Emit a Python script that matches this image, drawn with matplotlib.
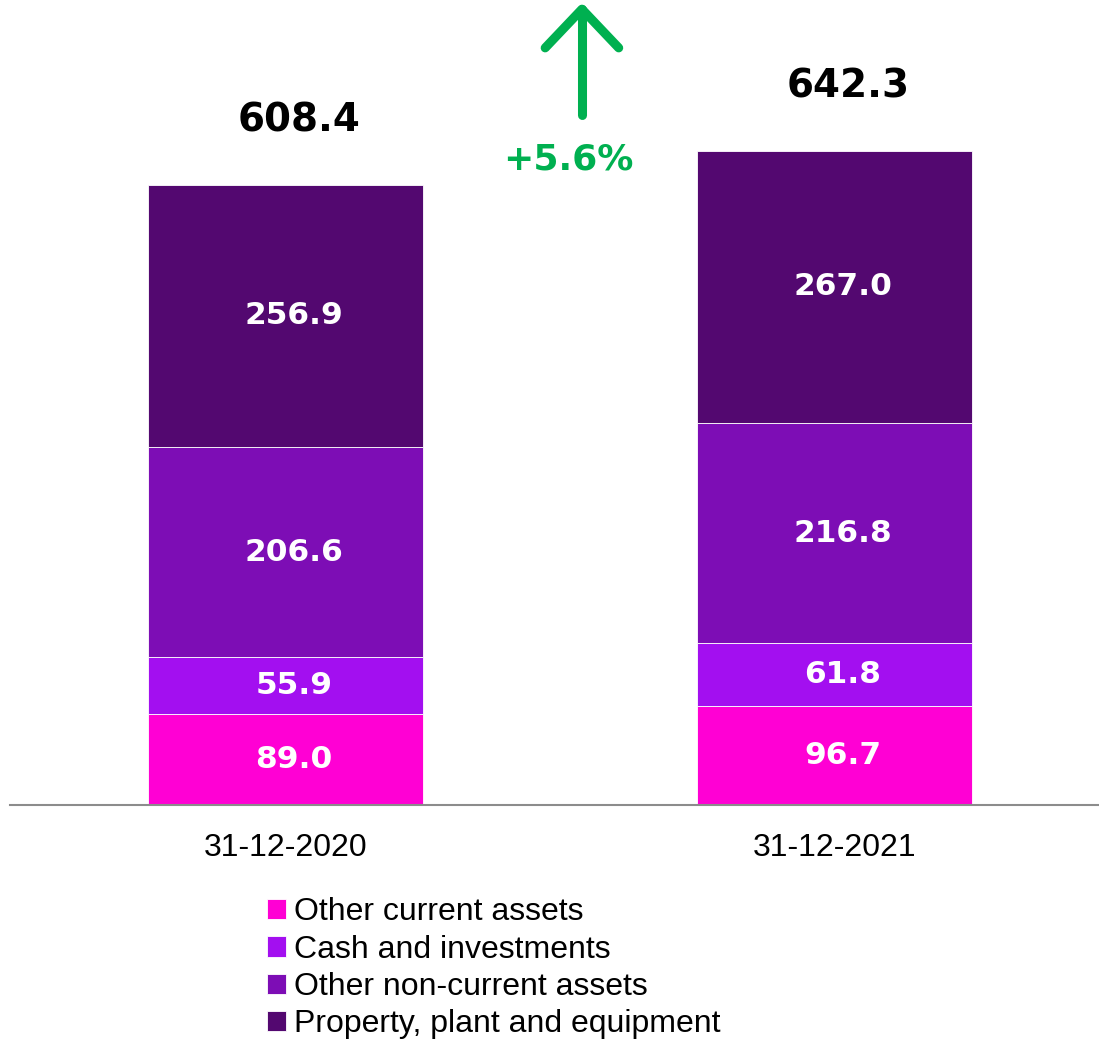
import matplotlib.pyplot as plt
import numpy as np

# balance sheet assets, in millions
dates = ["31-12-2020", "31-12-2021"]
series = ["Other current assets", "Cash and investments",
          "Other non-current assets", "Property, plant and equipment"]
other_current = [89.0, 96.7]
cash = [55.9, 61.8]
other_noncurrent = [206.6, 216.8]
ppe = [256.9, 267.0]
totals = [608.4, 642.3]
growth = "+5.6%"

colors = ["#FF00D4", "#A30FF0", "#7D0DB5", "#530870"]

fig = plt.figure(figsize=(10.99, 10.41), dpi=100)
ax = fig.add_axes([0.0091, 0.2267, 0.9909, 0.7733])

x = np.arange(len(dates))
bottom = np.zeros(len(dates))
for name, vals, col in zip(series, [other_current, cash, other_noncurrent, ppe], colors):
    vals = np.array(vals)
    ax.bar(x, vals, width=0.5, bottom=bottom, color=col, label=name,
           edgecolor="white", linewidth=0.6)
    for xi, b, v in zip(x, bottom, vals):
        ax.text(xi + 0.015, b + v / 2, f"{v:.1f}", ha="center", va="center",
                color="white", fontsize=22.5, fontweight="bold", family="DejaVu Sans")
    bottom += vals

for xi, t in zip(x, totals):
    ax.text(xi + 0.025, t + 63, f"{t:.1f}", ha="center", va="center",
            color="black", fontsize=28, fontweight="bold", family="DejaVu Sans")

# growth arrow between the bars
green = "#00B050"
ax.plot([0.54, 0.54], [677, 781], color=green, lw=6.5, solid_capstyle="round")
ax.plot([0.473, 0.54, 0.607], [743, 781, 743], color=green, lw=6.5,
        solid_capstyle="round", solid_joinstyle="round")
ax.text(0.515, 633, growth, ha="center", va="center", color=green,
        fontsize=26, fontweight="bold", family="DejaVu Sans")

ax.set_xlim(-0.502, 1.482)
ax.set_ylim(0, 790)
ax.set_xticks(x)
ax.set_xticklabels(dates, fontsize=23, family="Liberation Sans")
ax.tick_params(axis="x", length=0, pad=20)
ax.set_yticks([])
for s in ["top", "right", "left"]:
    ax.spines[s].set_visible(False)
ax.spines["bottom"].set_color("#8C8C8C")
ax.spines["bottom"].set_linewidth(1.5)

fig.legend(loc="upper left", bbox_to_anchor=(0.243, 0.138), frameon=False,
           prop={"family": "Liberation Sans", "size": 23}, handlelength=0.6,
           handleheight=0.6, handletextpad=0.25, labelspacing=0.23,
           borderaxespad=0, borderpad=0)

fig.savefig("out.png", dpi=100)
